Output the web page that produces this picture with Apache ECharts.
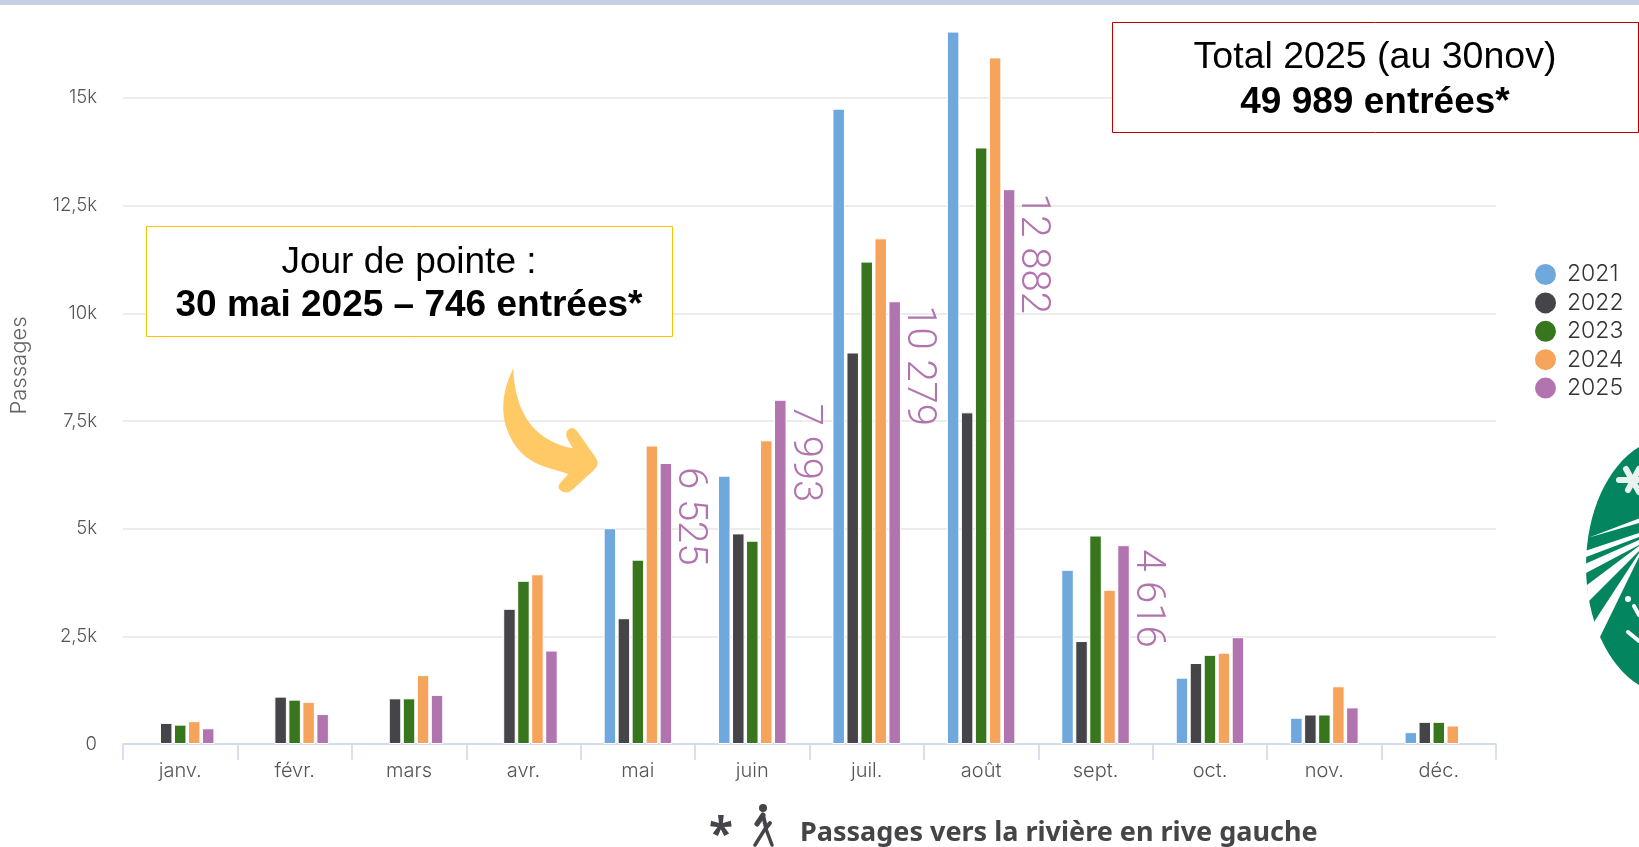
<!DOCTYPE html>
<html><head><meta charset="utf-8"><style>html,body{margin:0;padding:0;background:#fff;overflow:hidden}#c{width:1639px;height:847px}</style>
<script src="https://cdn.jsdelivr.net/npm/echarts@6/dist/echarts.min.js"></script></head>
<body><div id="c"></div><script>
const months=["janv.","févr.","mars","avr.","mai","juin","juil.","août","sept.","oct.","nov.","déc."];
const y2021=[null,null,null,null,5010,6230,14750,16540,4045,1540,610,275];
const y2022=[490,1100,1060,3140,2920,4890,9090,7700,2390,1880,685,515];
const y2023=[450,1030,1060,3790,4280,4720,11200,13850,4840,2070,685,515];
const y2024=[530,980,1600,3940,6930,7050,11740,15940,3580,2120,1340,430];
const y2025=[365,695,1140,2170,6525,7993,10279,12882,4616,2480,850,null];
const labelled2025=["mai","juin","juil.","août","sept."];
const yearNames=["2021","2022","2023","2024","2025"];
const colors=["#6FA8DC","#454549","#38761D","#F6A45C","#B274AF"];
const seriesValues=[y2021,y2022,y2023,y2024,y2025];
const F='Inter, sans-serif';
const A='"Liberation Sans", Arial, sans-serif';
const fmtTick=v=>v===0?"0":String(v/1000).replace(".",",")+"k";
const fmtLabel=v=>{const s=String(v);return s.length>3?s.slice(0,-3)+" "+s.slice(-3):s;};
const series=seriesValues.map((d,i)=>{
  const s={name:yearNames[i],type:"bar",data:d,barWidth:12.5,barGap:"12%",
    itemStyle:{color:colors[i],borderColor:"#fff",borderWidth:1}};
  if(i===4){s.label={show:true,position:["100%",0],offset:[4,-17],rotate:-90,align:"left",verticalAlign:"middle",
    fontFamily:'Roboto, sans-serif',fontWeight:300,fontSize:40,color:"#B274AF",
    formatter:p=>labelled2025.includes(p.name)?fmtLabel(p.value):""};}
  return s;
});
echarts.graphic.registerShape("noteArrow",echarts.graphic.extendPath("M513.3 368.3 C500 395,500 420,513 442 C528 467,553 468,568.3 474 L562 481 Q556 487,560 490 Q566 495,572 490 L594 470 Q600 464,596 458 L577 431 Q572 425,567 431 Q565 435,568 440 L572.7 448.3 C540 442,515 420,513.3 368.3 Z"));
const box=(x,y,w,h,c)=>({type:"rect",z:100,shape:{x,y,width:w,height:h},style:{fill:"#fff",stroke:c,lineWidth:1}});
const txt=(x,y,t,size,weight,fam,col,align)=>({type:"text",z:101,x,y,style:{text:t,fontSize:size,fontWeight:weight,fontFamily:fam,fill:col||"#000",align:align||"center",verticalAlign:"middle"}});
const poly=(pts,fill)=>({type:"polygon",z:60,shape:{points:pts},style:{fill:fill||"#fff"}});
const line=(pts,w,c)=>({type:"polyline",z:61,shape:{points:pts},style:{stroke:c,lineWidth:w,fill:null,lineCap:"round",lineJoin:"round"}});
const W="#454549";
const chart=echarts.init(document.getElementById("c"),null,{renderer:"canvas"});
chart.setOption({
  animation:false,backgroundColor:"#fff",
  grid:{left:123,right:143,top:29,bottom:103,containLabel:false},
  legend:{orient:"vertical",left:1533,top:262,padding:0,icon:"circle",itemWidth:23,itemHeight:23,itemGap:3.4,
    data:yearNames,textStyle:{fontFamily:F,fontWeight:300,fontSize:23,lineHeight:23,color:"#333",padding:[0,0,0,5]}},
  xAxis:{type:"category",data:months,
    axisLine:{lineStyle:{color:"#CCD6EB",width:1.5}},
    axisTick:{show:true,alignWithLabel:false,length:16,lineStyle:{color:"#CCD6EB",width:1.5}},
    axisLabel:{fontFamily:F,fontWeight:300,fontSize:20,color:"#555",margin:17,interval:0}},
  yAxis:{type:"value",min:0,max:16600,interval:2500,name:"Passages",nameLocation:"middle",nameGap:93,
    nameTextStyle:{fontFamily:F,fontWeight:300,fontSize:22,color:"#666",padding:[0,0,0,42]},
    axisLine:{show:false},axisTick:{show:false},
    axisLabel:{fontFamily:F,fontWeight:300,fontSize:18.5,color:"#555",margin:26,showMaxLabel:false,formatter:fmtTick},
    splitLine:{show:true,showMaxLine:false,lineStyle:{color:"#E6E6E6",width:1.5}}},
  series,
  graphic:{elements:[
    {type:"rect",z:90,shape:{x:0,y:0,width:1639,height:5},style:{fill:"#C5D0E2"}},
    box(1112.5,22.5,526,110,"#C00000"),
    txt(1375,58,"Total 2025 (au 30nov)",37.5,400,A),
    txt(1375,103,"49 989 entrées*",37,700,A),
    box(146.5,226.5,526,110,"#FFC000"),
    txt(409,263,"Jour de pointe :",37,400,A),
    txt(409,306,"30 mai 2025 – 746 entrées*",37,700,A),
    {type:"noteArrow",z:50,style:{fill:"#FFC966"}},
    {type:"ellipse",z:55,shape:{cx:1670,cy:566,rx:84,ry:128},style:{fill:"#03855F"}},
    poly([[1589,537.5],[1639,518.5],[1639,523]]),
    poly([[1585,551],[1639,533],[1639,537],[1586,557]]),
    poly([[1585,564],[1639,540],[1639,545],[1586,573]]),
    poly([[1587,585],[1639,546],[1639,551],[1588,602]]),
    poly([[1594,622],[1639,553],[1639,557],[1599,639],[1590,630]]),
    line([[1626,469],[1639,492]],6,"#E8F3EF"),
    line([[1639,469],[1628,490]],6,"#E8F3EF"),
    line([[1619,480],[1639,480]],6,"#E8F3EF"),
    {type:"circle",z:61,shape:{cx:1628,cy:599,r:3},style:{fill:"#fff"}},
    line([[1634,606],[1639,615]],4,"#fff"),
    line([[1628,632],[1639,641]],4,"#fff"),
    txt(721,836,"*",44,700,"Noto Sans, sans-serif",W),
    {type:"circle",z:61,shape:{cx:763,cy:808,r:4},style:{fill:W}},
    line([[763,815],[757,824]],5,W),
    line([[763,815],[766,828],[770,823]],4,W),
    line([[765,829],[755,845]],3.5,W),
    line([[766,829],[772,845]],3.5,W),
    txt(800,833,"Passages vers la rivière en rive gauche",27,700,'"Noto Sans", sans-serif',W,"left")
  ]}
});
</script></body></html>
